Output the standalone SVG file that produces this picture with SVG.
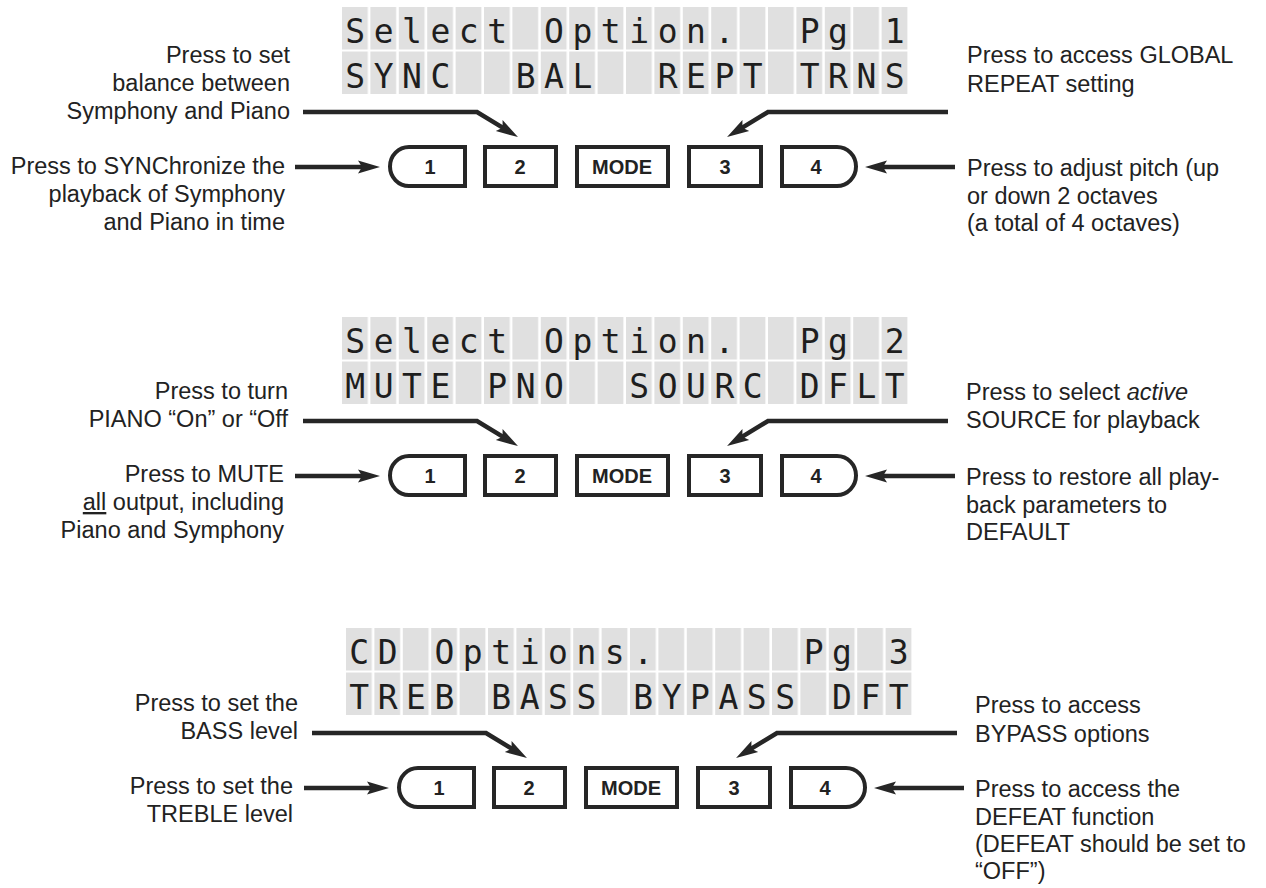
<svg xmlns="http://www.w3.org/2000/svg" width="1266" height="888" viewBox="0 0 1266 888">
<style>
.lbl{font-family:"Liberation Sans",Arial,sans-serif;font-size:23.5px;fill:#222}
.r{text-anchor:end}
.lcd{font-family:"DejaVu Sans Mono",monospace;font-size:33px;fill:#1e1e1e;text-anchor:middle;white-space:pre}
.btn{fill:#fff;stroke:#262626;stroke-width:4}
.bt{font-family:"Liberation Sans",Arial,sans-serif;font-size:20px;font-weight:bold;fill:#222;text-anchor:middle}
.con{fill:none;stroke:#262626;stroke-width:4.5;stroke-linejoin:miter}
.arr{marker-end:url(#ah)}
</style>
<defs>
<pattern id="cells" patternUnits="userSpaceOnUse" x="342" y="7" width="28.4" height="44.5">
<rect width="25.8" height="42.5" fill="#e0e0e0"/>
</pattern>
<marker id="ah" viewBox="0 0 22 16" refX="6" refY="8" markerWidth="22" markerHeight="16" markerUnits="userSpaceOnUse" orient="auto">
<path d="M0,1.5 L22,8 L0,14.5 L4,8 Z" fill="#262626"/>
</marker>
</defs>
<rect width="1266" height="888" fill="#fff"/>

<!-- Section 1 -->
<g id="lcd1">
<rect x="342" y="7" width="568" height="87" fill="url(#cells)"/>
<text class="lcd" xml:space="preserve" x="355.2 383.6 412 440.4 468.8 497.2 525.6 554 582.4 610.8 639.2 667.6 696 724.4 752.8 781.2 809.6 838 866.4 894.8" y="43">Select Option.  Pg 1</text>
<text class="lcd" xml:space="preserve" x="355.2 383.6 412 440.4 468.8 497.2 525.6 554 582.4 610.8 639.2 667.6 696 724.4 752.8 781.2 809.6 838 866.4 894.8" y="87.5">SYNC  BAL  REPT TRNS</text>
</g>
<g id="s1-btn1"><path class="btn" d="M465,147 H409 A19,19.5 0 0 0 409,186 H465 Z"/><text class="bt" x="430" y="174">1</text></g>
<g id="s1-btn2"><rect class="btn" x="485" y="147" width="71" height="39"/><text class="bt" x="520" y="174">2</text></g>
<g id="s1-mode"><rect class="btn" x="577" y="147" width="91" height="39"/><text class="bt" x="622" y="174">MODE</text></g>
<g id="s1-btn3"><rect class="btn" x="689" y="147" width="72" height="39"/><text class="bt" x="725" y="174">3</text></g>
<g id="s1-btn4"><path class="btn" d="M782,147 H837 A19,19.5 0 0 1 837,186 H782 Z"/><text class="bt" x="816" y="174">4</text></g>
<g id="s1-bal"><text class="lbl r" x="290" y="63">Press to set</text><text class="lbl r" x="290" y="91">balance between</text><text class="lbl r" x="290" y="119">Symphony and Piano</text></g>
<g id="s1-sync"><text class="lbl r" x="285" y="174">Press to SYNChronize the</text><text class="lbl r" x="285" y="202">playback of Symphony</text><text class="lbl r" x="285" y="230">and Piano in time</text></g>
<g id="s1-rept"><text class="lbl" x="967" y="63">Press to access GLOBAL</text><text class="lbl" x="967" y="92">REPEAT setting</text></g>
<g id="s1-trns"><text class="lbl" x="967" y="176">Press to adjust pitch (up</text><text class="lbl" x="967" y="204">or down 2 octaves</text><text class="lbl" x="967" y="231">(a total of 4 octaves)</text></g>

<!-- Section 2 -->
<g id="lcd2" transform="translate(0,310)">
<rect x="342" y="7" width="568" height="87" fill="url(#cells)"/>
<text class="lcd" xml:space="preserve" x="355.2 383.6 412 440.4 468.8 497.2 525.6 554 582.4 610.8 639.2 667.6 696 724.4 752.8 781.2 809.6 838 866.4 894.8" y="43">Select Option.  Pg 2</text>
<text class="lcd" xml:space="preserve" x="355.2 383.6 412 440.4 468.8 497.2 525.6 554 582.4 610.8 639.2 667.6 696 724.4 752.8 781.2 809.6 838 866.4 894.8" y="87.5">MUTE PNO  SOURC DFLT</text>
</g>
<g transform="translate(0,309)">
<g id="s2-btn1"><path class="btn" d="M465,147 H409 A19,19.5 0 0 0 409,186 H465 Z"/><text class="bt" x="430" y="174">1</text></g>
<g id="s2-btn2"><rect class="btn" x="485" y="147" width="71" height="39"/><text class="bt" x="520" y="174">2</text></g>
<g id="s2-mode"><rect class="btn" x="577" y="147" width="91" height="39"/><text class="bt" x="622" y="174">MODE</text></g>
<g id="s2-btn3"><rect class="btn" x="689" y="147" width="72" height="39"/><text class="bt" x="725" y="174">3</text></g>
<g id="s2-btn4"><path class="btn" d="M782,147 H837 A19,19.5 0 0 1 837,186 H782 Z"/><text class="bt" x="816" y="174">4</text></g>
<g id="s2-pno"><text class="lbl r" x="288" y="90">Press to turn</text><text class="lbl r" x="288" y="118">PIANO “On” or “Off</text></g>
<g id="s2-mute"><text class="lbl r" x="284" y="173">Press to MUTE</text><text class="lbl r" x="284" y="201"><tspan text-decoration="underline">all</tspan> output, including</text><text class="lbl r" x="284" y="229">Piano and Symphony</text></g>
<g id="s2-sourc"><text class="lbl" x="966" y="91">Press to select <tspan font-style="italic">active</tspan></text><text class="lbl" x="966" y="119">SOURCE for playback</text></g>
<g id="s2-dflt"><text class="lbl" x="966" y="176">Press to restore all play-</text><text class="lbl" x="966" y="204">back parameters to</text><text class="lbl" x="966" y="231">DEFAULT</text></g>
</g>

<!-- Section 3 -->
<g id="lcd3" transform="translate(4,621)">
<rect x="342" y="7" width="568" height="87" fill="url(#cells)"/>
<text class="lcd" xml:space="preserve" x="355.2 383.6 412 440.4 468.8 497.2 525.6 554 582.4 610.8 639.2 667.6 696 724.4 752.8 781.2 809.6 838 866.4 894.8" y="43">CD Options.     Pg 3</text>
<text class="lcd" xml:space="preserve" x="355.2 383.6 412 440.4 468.8 497.2 525.6 554 582.4 610.8 639.2 667.6 696 724.4 752.8 781.2 809.6 838 866.4 894.8" y="87.5">TREB BASS BYPASS DFT</text>
</g>
<g transform="translate(9,621)">
<g id="s3-btn1"><path class="btn" d="M465,147 H409 A19,19.5 0 0 0 409,186 H465 Z"/><text class="bt" x="430" y="174">1</text></g>
<g id="s3-btn2"><rect class="btn" x="485" y="147" width="71" height="39"/><text class="bt" x="520" y="174">2</text></g>
<g id="s3-mode"><rect class="btn" x="577" y="147" width="91" height="39"/><text class="bt" x="622" y="174">MODE</text></g>
<g id="s3-btn3"><rect class="btn" x="689" y="147" width="72" height="39"/><text class="bt" x="725" y="174">3</text></g>
<g id="s3-btn4"><path class="btn" d="M782,147 H837 A19,19.5 0 0 1 837,186 H782 Z"/><text class="bt" x="816" y="174">4</text></g>
<g id="s3-bass"><text class="lbl r" x="289" y="90">Press to set the</text><text class="lbl r" x="289" y="118">BASS level</text></g>
<g id="s3-treb"><text class="lbl r" x="284" y="173">Press to set the</text><text class="lbl r" x="284" y="201">TREBLE level</text></g>
<g id="s3-bypass"><text class="lbl" x="966" y="92">Press to access</text><text class="lbl" x="966" y="121">BYPASS options</text></g>
<g id="s3-dft"><text class="lbl" x="966" y="176">Press to access the</text><text class="lbl" x="966" y="204">DEFEAT function</text><text class="lbl" x="966" y="231">(DEFEAT should be set to</text><text class="lbl" x="966" y="258">“OFF”)</text></g>
</g>

<!-- Connectors -->
<g id="connectors">
<g transform="translate(0,0)">
<path class="con arr" d="M303,112 H477 L504.3,128.7"/>
<path class="con arr" d="M948,112 H768 L740.7,128.7"/>
<path class="con arr" d="M295,167 H364"/>
<path class="con arr" d="M955,167 H881"/>
</g>
<g transform="translate(0,309)">
<path class="con arr" d="M303,112 H477 L504.3,128.7"/>
<path class="con arr" d="M948,112 H768 L740.7,128.7"/>
<path class="con arr" d="M295,167 H364"/>
<path class="con arr" d="M955,167 H881"/>
</g>
<g transform="translate(9,621)">
<path class="con arr" d="M303,112 H477 L504.3,128.7"/>
<path class="con arr" d="M948,112 H768 L740.7,128.7"/>
<path class="con arr" d="M295,167 H364"/>
<path class="con arr" d="M955,167 H881"/>
</g>
</g>
</svg>
